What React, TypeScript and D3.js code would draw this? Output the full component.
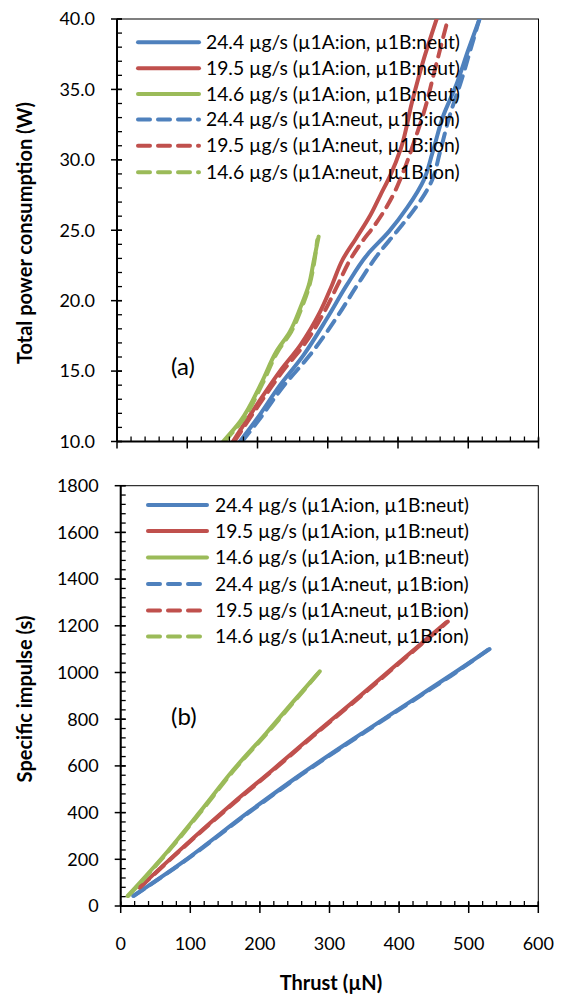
import { useEffect, useRef } from 'react';
import * as d3 from 'd3';

// ---- data ----
// (a) total power consumption (W) vs thrust (µN)
const blueIonThrustA = [175, 199, 232, 265, 299, 327, 356, 387, 413, 437, 449, 465, 482, 500, 516];
const blueIonPowerA = [10.0, 11.6, 14.0, 16.1, 18.75, 21.1, 23.25, 24.9, 26.6, 28.6, 30.5, 33.2, 35.2, 37.8, 40.0];
const redIonThrustA = [165, 199, 232, 261, 289, 306, 321, 340, 361, 375, 389, 404, 420, 437, 455];
const redIonPowerA = [10.0, 12.6, 15.0, 16.85, 19.2, 21.1, 22.9, 24.4, 26.1, 27.5, 28.9, 30.8, 34.1, 37.2, 40.0];
const greenIonThrustA = [151, 175, 206, 227, 246, 261, 273, 280, 287];
const greenIonPowerA = [10.0, 11.4, 14.2, 16.4, 17.8, 19.5, 21.1, 22.8, 24.55];

const blueNeutThrustA = [178, 203, 238, 274, 312, 342, 371, 398, 425, 448, 460, 474, 490, 503, 516];
const blueNeutPowerA = [10.0, 11.6, 14.0, 16.1, 18.75, 21.1, 23.25, 24.9, 26.6, 28.5, 30.6, 33.2, 35.6, 37.8, 40.0];
const redNeutThrustA = [167, 202, 236, 266, 295, 314, 333, 349, 366, 392, 408, 421, 437, 453, 470];
const redNeutPowerA = [10.0, 12.6, 15.0, 16.85, 19.2, 21.1, 23.0, 24.2, 25.3, 27.4, 29.2, 31.0, 33.4, 36.5, 39.8];
const greenNeutThrustA = [153, 177, 208, 229, 248, 263, 274, 281, 285];
const greenNeutPowerA = [10.0, 11.4, 14.2, 16.4, 17.8, 19.5, 21.1, 22.8, 24.3];

// (b) specific impulse (s) vs thrust (µN)
const blueIonThrustB = [18, 89, 185, 257, 352, 429, 480, 530];
const blueIonIspB = [43, 188, 405, 560, 750, 900, 1000, 1100];
const redIonThrustB = [27, 89, 161, 219, 276, 333, 391, 468];
const redIonIspB = [79, 250, 440, 585, 730, 872, 1020, 1215];
const greenIonThrustB = [10, 66, 113, 161, 209, 247, 286];
const greenIonIspB = [43, 229, 400, 580, 740, 872, 1005];

const blueNeutThrustB = [19, 90, 186, 258, 353, 430, 481, 528];
const blueNeutIspB = [44, 188, 404, 559, 749, 899, 999, 1098];
const redNeutThrustB = [28, 90, 162, 220, 277, 334, 392, 470];
const redNeutIspB = [80, 250, 439, 584, 729, 871, 1019, 1218];
const greenNeutThrustB = [11, 67, 114, 162, 210, 248, 287];
const greenNeutIspB = [43, 229, 399, 579, 739, 871, 1008];

const legendLabels = [
  '24.4 µg/s (µ1A:ion, µ1B:neut)',
  '19.5 µg/s (µ1A:ion, µ1B:neut)',
  '14.6 µg/s (µ1A:ion, µ1B:neut)',
  '24.4 µg/s (µ1A:neut, µ1B:ion)',
  '19.5 µg/s (µ1A:neut, µ1B:ion)',
  '14.6 µg/s (µ1A:neut, µ1B:ion)',
];
const thrustTicks = [0, 100, 200, 300, 400, 500, 600];
const powerTicks = [10, 15, 20, 25, 30, 35, 40];
const ispTicks = [0, 200, 400, 600, 800, 1000, 1200, 1400, 1600, 1800];

const BLUE = '#4F81BD';
const RED = '#C0504D';
const GREEN = '#9BBB59';
const FONT = 'Lato, "Open Sans", sans-serif';
const DASH = '12,8';

const zip = (xs: number[], ys: number[]) => xs.map((x, i) => [x, ys[i]] as [number, number]);

export default function App() {
  const svgRef = useRef<SVGSVGElement>(null);

  useEffect(() => {
    const svg = d3.select(svgRef.current);
    svg.selectAll('*').remove();

    const drawPanel = (opts: any) => {
      const { x, y, yTicks, yMinorStep, yFmt, series, legendX, legendY, legendText, tag, tagY, clipId, yTitle, yTitleY } = opts;
      const [x0, x1] = x.range();
      const [yb, yt] = y.range();
      const g = svg.append('g');

      g.append('clipPath').attr('id', clipId)
        .append('rect').attr('x', x0).attr('y', yt).attr('width', x1 - x0).attr('height', yb - yt);

      // frame
      g.append('rect')
        .attr('x', x0).attr('y', yt).attr('width', x1 - x0).attr('height', yb - yt)
        .attr('fill', 'none').attr('stroke', '#000').attr('stroke-width', 1);

      // series
      const curve = opts.monoY ? d3.curveMonotoneY : d3.curveMonotoneX;
      const line = d3.line<[number, number]>().x(d => x(d[0])).y(d => y(d[1])).curve(curve);
      series.forEach((s: any) => {
        g.append('path')
          .datum(s.data)
          .attr('clip-path', `url(#${clipId})`)
          .attr('fill', 'none')
          .attr('stroke', s.color)
          .attr('stroke-width', 4)
          .attr('stroke-linecap', 'round')
          .attr('stroke-linejoin', 'round')
          .attr('stroke-dasharray', s.dashed ? DASH : null)
          .attr('d', line);
      });

      // axis lines
      g.append('line').attr('x1', x0).attr('x2', x0).attr('y1', yt).attr('y2', yb)
        .attr('stroke', '#000').attr('stroke-width', 2);
      g.append('line').attr('x1', x0).attr('x2', x1).attr('y1', yb).attr('y2', yb)
        .attr('stroke', '#000').attr('stroke-width', 2);

      // y ticks
      const [yd0, yd1] = y.domain();
      d3.range(yd0, yd1 + 1e-9, yMinorStep).forEach((v: number) => {
        g.append('line').attr('x1', x0).attr('x2', x0 + 5).attr('y1', y(v)).attr('y2', y(v))
          .attr('stroke', '#000').attr('stroke-width', 1.3);
      });
      yTicks.forEach((v: number) => {
        g.append('line').attr('x1', x0 - 6).attr('x2', x0 + 5).attr('y1', y(v)).attr('y2', y(v))
          .attr('stroke', '#000').attr('stroke-width', 1.5);
        g.append('text').attr('x', x0 - 22).attr('y', y(v)).attr('dy', '0.35em')
          .attr('text-anchor', 'end').attr('font-family', FONT).attr('font-size', 18)
          .attr('fill', '#000').text(yFmt(v));
      });

      // x ticks
      d3.range(0, 600 + 1e-9, 20).forEach((v: number) => {
        g.append('line').attr('x1', x(v)).attr('x2', x(v)).attr('y1', yb - 5).attr('y2', yb)
          .attr('stroke', '#000').attr('stroke-width', 1.3);
      });
      thrustTicks.forEach((v) => {
        g.append('line').attr('x1', x(v)).attr('x2', x(v)).attr('y1', yb - 4).attr('y2', yb + 7)
          .attr('stroke', '#000').attr('stroke-width', 1.5);
      });

      // legend
      series.forEach((s: any, i: number) => {
        const ly = legendY[i];
        g.append('line').attr('x1', legendX[0]).attr('x2', legendX[1]).attr('y1', ly).attr('y2', ly)
          .attr('stroke', s.color).attr('stroke-width', 4).attr('stroke-linecap', 'round')
          .attr('stroke-dasharray', s.dashed ? DASH : null);
        g.append('text').attr('x', legendText).attr('y', ly).attr('dy', '0.35em')
          .attr('font-family', FONT).attr('font-size', 19.3).attr('fill', '#000')
          .text(legendLabels[i]);
      });

      g.append('text').attr('x', 171).attr('y', tagY).attr('dy', '0.35em')
        .attr('font-family', FONT).attr('font-size', 24).attr('fill', '#000').text(tag);

      g.append('text')
        .attr('transform', `translate(25,${yTitleY}) rotate(-90)`)
        .attr('dy', '0.35em')
        .attr('text-anchor', 'middle').attr('font-family', FONT).attr('font-weight', 'bold')
        .attr('font-size', 20).attr('fill', '#000').text(yTitle);
    };

    const xA = d3.scaleLinear().domain([0, 600]).range([117, 538.5]);
    const yA = d3.scaleLinear().domain([10, 40]).range([441.5, 19]);
    drawPanel({
      x: xA, y: yA, yTicks: powerTicks, yMinorStep: 1, yFmt: (v: number) => v.toFixed(1),
      monoY: true,
      series: [
        { data: zip(blueIonThrustA, blueIonPowerA), color: BLUE, dashed: false },
        { data: zip(redIonThrustA, redIonPowerA), color: RED, dashed: false },
        { data: zip(greenIonThrustA, greenIonPowerA), color: GREEN, dashed: false },
        { data: zip(blueNeutThrustA, blueNeutPowerA), color: BLUE, dashed: true },
        { data: zip(redNeutThrustA, redNeutPowerA), color: RED, dashed: true },
        { data: zip(greenNeutThrustA, greenNeutPowerA), color: GREEN, dashed: true },
      ],
      legendX: [138, 199], legendY: [42.3, 68.3, 94, 119.5, 145.7, 172.3], legendText: 206,
      tag: '(a)', tagY: 367, clipId: 'clipA',
      yTitle: 'Total power consumption  (W)', yTitleY: 233,
    });

    const xB = d3.scaleLinear().domain([0, 600]).range([120.7, 538.3]);
    const yB = d3.scaleLinear().domain([0, 1800]).range([906, 485.7]);
    drawPanel({
      x: xB, y: yB, yTicks: ispTicks, yMinorStep: 40, yFmt: (v: number) => String(v),
      monoY: false,
      series: [
        { data: zip(blueIonThrustB, blueIonIspB), color: BLUE, dashed: false },
        { data: zip(redIonThrustB, redIonIspB), color: RED, dashed: false },
        { data: zip(greenIonThrustB, greenIonIspB), color: GREEN, dashed: false },
        { data: zip(blueNeutThrustB, blueNeutIspB), color: BLUE, dashed: true },
        { data: zip(redNeutThrustB, redNeutIspB), color: RED, dashed: true },
        { data: zip(greenNeutThrustB, greenNeutIspB), color: GREEN, dashed: true },
      ],
      legendX: [148, 207], legendY: [505, 531, 557.5, 584, 610.5, 636.5], legendText: 215,
      tag: '(b)', tagY: 716.5, clipId: 'clipB',
      yTitle: 'Specific impulse (s)', yTitleY: 699,
    });

    // shared x tick labels and title
    thrustTicks.forEach((v) => {
      svg.append('text').attr('x', xB(v)).attr('y', 943.5).attr('dy', '0.35em')
        .attr('text-anchor', 'middle').attr('font-family', FONT).attr('font-size', 18)
        .attr('fill', '#000').text(String(v));
    });
    svg.append('text').attr('x', 331).attr('y', 983).attr('dy', '0.35em')
      .attr('text-anchor', 'middle').attr('font-family', FONT).attr('font-weight', 'bold')
      .attr('font-size', 20).attr('fill', '#000').text('Thrust (µN)');
  }, []);

  return (
    <svg ref={svgRef} width={563} height={994}
      style={{ position: 'absolute', left: 0, top: 0, background: '#fff' }} />
  );
}
